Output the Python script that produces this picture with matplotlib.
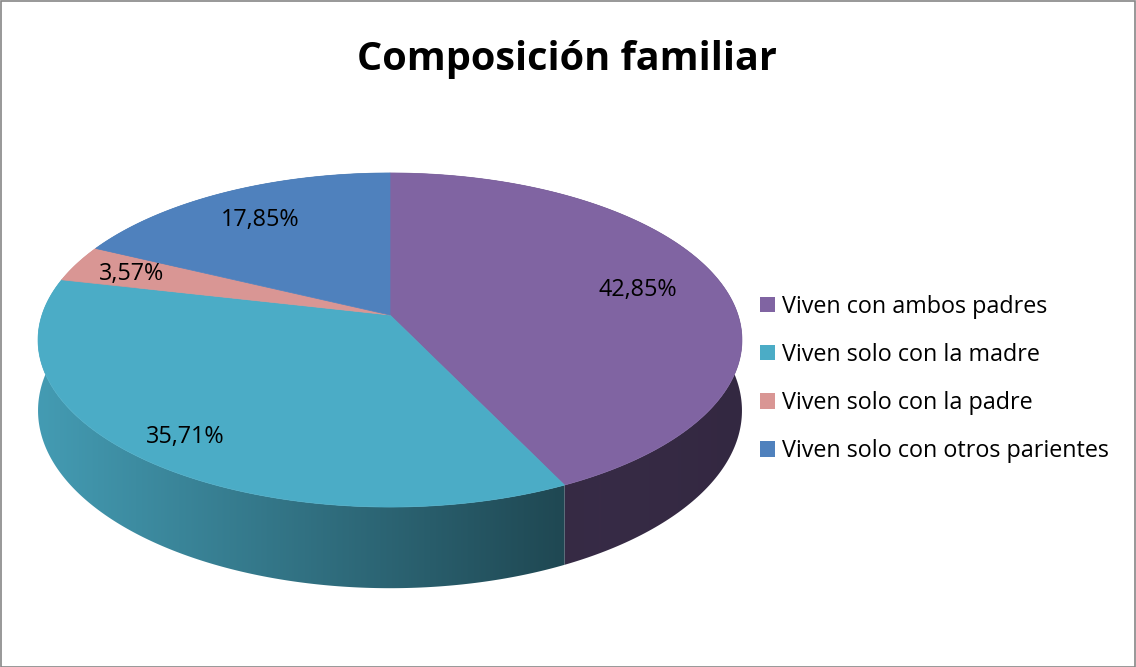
import numpy as np
import matplotlib
matplotlib.use("Agg")
import matplotlib.pyplot as plt
from matplotlib.patches import Polygon, Patch, Rectangle
from matplotlib.colors import to_rgb

# ---- data ----
categories = ["Viven con ambos padres", "Viven solo con la madre",
              "Viven solo con la padre", "Viven solo con otros parientes"]
values = [42.85, 35.71, 3.57, 17.85]
labels = ["42,85%", "35,71%", "3,57%", "17,85%"]
colors = ["#8064A2", "#4BACC6", "#D99694", "#4F81BD"]
title = "Composición familiar"

# ---- layout (pixel space) ----
W, H = 1136, 667
CX, CY = 390, 315      # pie centre on screen
A, B = 348, 163.3      # horizontal / vertical scale
K = 0.1497             # perspective factor
D = 69                 # thickness
label_r = [0.75, 0.85, 0.82, 0.77]

FONT = ["Open Sans", "DejaVu Sans"]


def proj(u, v, drop=0.0):
    w = 1 - K * v
    return CX + A * u / w, CY + B * v / w + drop / w


def rim(phi):
    # phi: clockwise from top (screen), radians
    return np.sin(phi), -np.cos(phi)


fig = plt.figure(figsize=(W / 100, H / 100), dpi=100)
ax = fig.add_axes([0, 0, 1, 1])
ax.set_xlim(0, W)
ax.set_ylim(H, 0)
ax.axis("off")

fracs = np.array(values) / np.sum(values)
bounds = np.concatenate([[0], np.cumsum(fracs)]) * 2 * np.pi

# side gradient image
gx = np.linspace(0, W, 600)
fac = np.interp(gx, [CX - A, 560, 600, CX + A + 10], [0.9, 0.42, 0.43, 0.40])

for i in range(len(values)):
    phis = np.linspace(bounds[i], bounds[i + 1], 200)
    u, v = rim(phis)
    tx, ty = proj(u, v)
    bx, by = proj(u, v, D)
    poly = np.column_stack([np.concatenate([tx, bx[::-1]]),
                            np.concatenate([ty, by[::-1]])])
    patch = Polygon(poly, closed=True, facecolor="none", edgecolor="none")
    ax.add_patch(patch)
    base = np.array(to_rgb(colors[i]))
    img = (fac[None, :, None] * base[None, None, :]).clip(0, 1)
    img = np.repeat(img, 2, axis=0)
    im = ax.imshow(img, extent=(0, W, H, 0), aspect="auto", zorder=1,
                   interpolation="bilinear")
    im.set_clip_path(patch)

for i in range(len(values)):
    phis = np.linspace(bounds[i], bounds[i + 1], 200)
    u, v = rim(phis)
    tx, ty = proj(u, v)
    poly = np.column_stack([np.concatenate([[CX], tx]), np.concatenate([[CY], ty])])
    ax.add_patch(Polygon(poly, closed=True, facecolor=colors[i],
                         edgecolor=colors[i], linewidth=0.5, zorder=2))
    mid = (bounds[i] + bounds[i + 1]) / 2
    mu, mv = rim(mid)
    lx, ly = proj(mu * label_r[i], mv * label_r[i])
    ax.text(lx, ly + 8, labels[i], ha="center", va="baseline", fontsize=16.8,
            family=FONT, color="black", zorder=5)

ax.text(567, 70, title, ha="center", va="baseline", fontsize=28.5,
        fontweight="bold", family=FONT, color="black")

handles = [Patch(facecolor=c, edgecolor="none") for c in colors]
leg = fig.legend(handles, categories, loc="center left",
                 bbox_to_anchor=(760 / W, 1 - 379 / H),
                 frameon=False, prop={"family": FONT, "size": 16.8},
                 handlelength=0.64, handleheight=0.64, handletextpad=0.3,
                 labelspacing=1.03, borderaxespad=0, borderpad=0)

fig.add_artist(Rectangle((0.5 / W, 0.5 / H), 1 - 1.5 / W, 1 - 1.5 / H,
                         transform=fig.transFigure, fill=False,
                         edgecolor="#868686", linewidth=1.2))

fig.savefig("out.png", dpi=100, facecolor="white")
